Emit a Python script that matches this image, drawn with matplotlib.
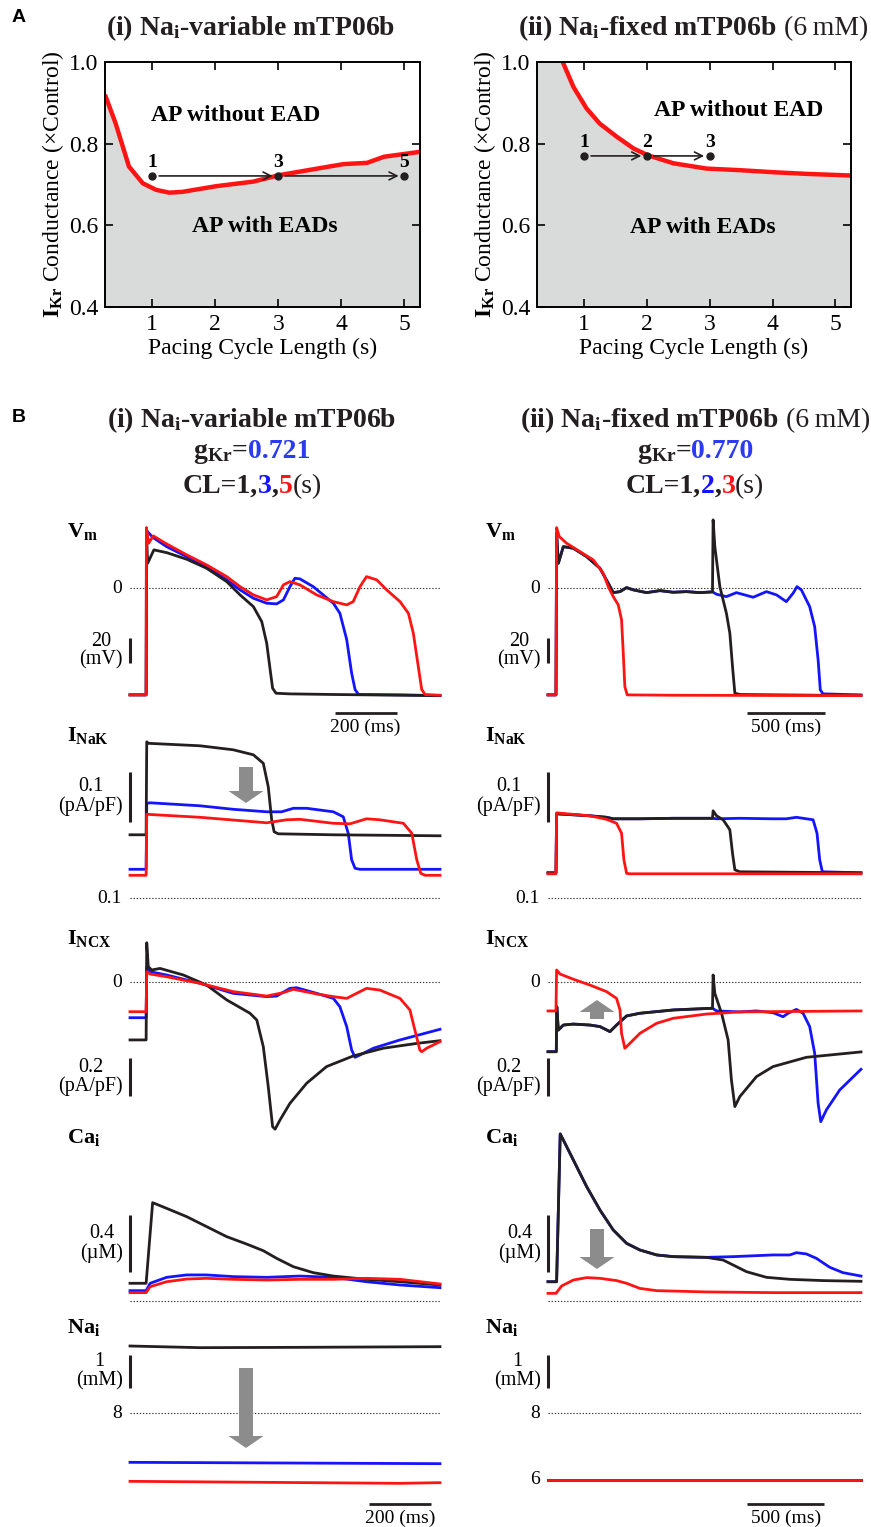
import matplotlib
matplotlib.use("Agg")
import matplotlib.pyplot as plt
import numpy as np
from matplotlib.patches import FancyArrow

plt.rcParams["font.family"] = "Liberation Serif"
plt.rcParams["mathtext.fontset"] = "custom"
plt.rcParams["mathtext.rm"] = "Liberation Serif"
plt.rcParams["mathtext.it"] = "Liberation Serif:italic"
plt.rcParams["mathtext.bf"] = "Liberation Serif:bold"

# ---------------- panel A : EAD boundary (gKr vs pacing CL) ----------------
bound_i_cl = [0.25, 0.42, 0.63, 0.85, 1.06, 1.27, 1.48, 2.02, 2.60, 3.02, 3.62, 4.04, 4.41, 4.68, 5.25]
bound_i_g = [0.920, 0.849, 0.744, 0.703, 0.687, 0.680, 0.682, 0.696, 0.707, 0.723, 0.739, 0.750, 0.753, 0.768, 0.780]
bound_ii_cl = [0.66, 0.83, 1.04, 1.25, 1.52, 1.79, 2.01, 2.42, 2.95, 3.49, 4.02, 4.55, 5.25]
bound_ii_g = [1.0, 0.939, 0.886, 0.849, 0.817, 0.788, 0.772, 0.752, 0.739, 0.735, 0.730, 0.726, 0.722]
runs_i_cl = [1, 3, 5]
runs_i_g = 0.721
runs_ii_cl = [1, 2, 3]
runs_ii_g = 0.770

# ---------------- panel B : traces, (time ms, value) ----------------
# Vm (mV)
vm_i_k = [(0, -85.3), (52, -85.3), (53, 44), (57, 20), (77, 30.7), (118, 28.5), (183, 23.2), (247, 16), (312, 5.3),
          (355, -5.3), (398, -14.7), (425, -26.7), (441, -44), (452, -65), (460, -80), (471, -84), (516, -84.5),
          (656, -85), (1000, -85.9)]
vm_i_b = [(0, -85.3), (52, -85.3), (54, 46), (73, 40.8), (118, 33.3), (183, 25.3), (247, 17.3), (312, 6.7),
          (355, -1.3), (398, -8), (441, -12), (473, -12.5), (495, -9.3), (516, 1.3), (532, 8), (548, 7.5),
          (591, 1.3), (656, -12), (677, -20), (699, -41), (715, -68), (726, -81), (737, -85), (871, -85.3),
          (1000, -85.9)]
vm_i_r = [(0, -85.3), (52, -85.3), (53, 48.5), (60, 36), (75, 41.9), (118, 35.5), (183, 26.7), (247, 18.7),
          (312, 9.3), (355, 1.3), (398, -5.3), (441, -9.3), (473, -6.7), (495, 2.7), (516, 5.3), (548, 2.7),
          (602, -5.3), (656, -10.7), (699, -13.3), (720, -10.7), (742, 1.3), (763, 9.3), (796, 6.7), (828, -1.3),
          (871, -10.7), (898, -20), (914, -36), (930, -62.7), (941, -81), (952, -85), (1000, -85.6)]
vm_ii_k = [(0, -85.3), (51, -85.3), (55, 44), (66, 20), (98, 33.3), (162, 32), (247, 25.3), (332, 16), (385, 4),
           (417, -3.5), (460, -2.7), (502, 0.5), (545, -1.3), (630, -3.5), (715, -1.9), (800, -3.2), (885, -2.7),
           (970, -3.5), (1051, -2.9), (1055, 54.7), (1066, 33.3), (1098, 1.3), (1140, -20), (1162, -36),
           (1179, -62.7), (1194, -84), (1226, -85), (2000, -85.9)]
vm_ii_b = vm_ii_k[:19] + [(1077, -4.8), (1140, -6.7), (1204, -3.5), (1311, -7.2), (1396, -2.7), (1460, -5.3),
                          (1523, -10.7), (1566, -4), (1591, 1.3), (1619, -1.3), (1672, -14.7), (1704, -30.7),
                          (1726, -57.3), (1740, -81.3), (1757, -84.5), (2000, -85.3)]
vm_ii_r = [(0, -85.3), (51, -85.3), (55, 48.5), (72, 41.3), (119, 36), (204, 29.3), (289, 22.7), (353, 12),
           (385, 1.3), (417, -6.7), (449, -13.3), (470, -25.3), (481, -52), (491, -78.7), (506, -85.3),
           (800, -85.6), (2000, -85.9)]

# INaK (pA/pF)
nak_i_k = [(0, 0.227), (52, 0.227), (54, 0.413), (59, 0.41), (226, 0.405), (333, 0.397), (398, 0.387), (430, 0.37),
           (446, 0.323), (457, 0.257), (465, 0.233), (478, 0.229), (656, 0.227), (1000, 0.225)]
nak_i_b = [(0, 0.158), (52, 0.158), (54, 0.29), (65, 0.291), (226, 0.285), (333, 0.278), (441, 0.273), (489, 0.273),
           (527, 0.28), (570, 0.28), (656, 0.273), (688, 0.263), (704, 0.23), (715, 0.177), (726, 0.16),
           (742, 0.158), (1000, 0.158)]
nak_i_r = [(0, 0.146), (52, 0.146), (54, 0.268), (226, 0.262), (441, 0.251), (505, 0.257), (548, 0.258),
           (656, 0.25), (710, 0.249), (763, 0.259), (806, 0.257), (882, 0.25), (909, 0.23), (925, 0.177),
           (938, 0.15), (952, 0.146), (1000, 0.146)]
nak_ii_k = [(0, 0.151), (51, 0.151), (55, 0.269), (268, 0.265), (374, 0.262), (417, 0.259), (587, 0.259),
            (800, 0.26), (1051, 0.26), (1055, 0.275), (1077, 0.265), (1119, 0.257), (1162, 0.237), (1179, 0.19),
            (1194, 0.157), (1226, 0.153), (2000, 0.151)]
nak_ii_b = nak_ii_k[:9] + [(1077, 0.259), (1226, 0.26), (1438, 0.259), (1523, 0.259), (1587, 0.262),
                           (1630, 0.26), (1694, 0.257), (1719, 0.23), (1736, 0.177), (1753, 0.153), (2000, 0.151)]
nak_ii_r = [(0, 0.149), (51, 0.149), (55, 0.271), (119, 0.269), (268, 0.265), (374, 0.258), (438, 0.25),
            (470, 0.23), (485, 0.177), (502, 0.15), (523, 0.149), (2000, 0.149)]

# INCX (pA/pF)
ncx_i_k = [(0, -0.298), (52, -0.298), (54, 0.205), (59, 0.081), (70, 0.064), (97, 0.072), (172, 0.038),
           (247, -0.014), (312, -0.091), (387, -0.16), (409, -0.195), (430, -0.333), (446, -0.54), (460, -0.747),
           (468, -0.76), (484, -0.712), (516, -0.626), (570, -0.522), (634, -0.436), (720, -0.381), (817, -0.341),
           (925, -0.316), (1000, -0.302)]
ncx_i_b = [(0, -0.183), (52, -0.183), (54, 0.081), (65, 0.055), (118, 0.038), (226, -0.005), (333, -0.057),
           (441, -0.074), (473, -0.071), (516, -0.031), (538, -0.028), (602, -0.057), (656, -0.083), (677, -0.126),
           (699, -0.229), (715, -0.35), (726, -0.388), (742, -0.376), (785, -0.341), (871, -0.298), (1000, -0.243)]
ncx_i_r = [(0, -0.152), (52, -0.152), (54, 0.055), (65, 0.043), (118, 0.029), (226, -0.005), (333, -0.048),
           (441, -0.071), (495, -0.053), (527, -0.036), (602, -0.06), (656, -0.074), (699, -0.083), (731, -0.057),
           (763, -0.031), (806, -0.04), (871, -0.083), (903, -0.143), (919, -0.247), (935, -0.35), (941, -0.359),
           (957, -0.341), (1000, -0.307)]
ncx_ii_k = [(0, -0.359), (53, -0.359), (56, -0.126), (66, -0.247), (98, -0.221), (162, -0.216), (268, -0.221),
            (332, -0.229), (396, -0.255), (438, -0.221), (502, -0.174), (587, -0.16), (800, -0.143), (1051, -0.134),
            (1055, 0.038), (1066, -0.057), (1109, -0.16), (1151, -0.298), (1172, -0.505), (1194, -0.643),
            (1226, -0.591), (1332, -0.488), (1438, -0.436), (1651, -0.388), (2000, -0.36)]
ncx_ii_b = ncx_ii_k[:14] + [(1077, -0.148), (1226, -0.153), (1332, -0.148), (1438, -0.157), (1502, -0.178),
                            (1534, -0.16), (1587, -0.14), (1630, -0.16), (1672, -0.229), (1704, -0.367),
                            (1726, -0.626), (1743, -0.721), (1779, -0.66), (1864, -0.557), (2000, -0.45)]
ncx_ii_r = [(0, -0.148), (51, -0.148), (55, 0.064), (77, 0.043), (162, 0.016), (268, -0.014), (374, -0.048),
            (438, -0.083), (460, -0.143), (470, -0.264), (491, -0.341), (513, -0.324), (587, -0.264), (694, -0.212),
            (800, -0.186), (1013, -0.164), (1226, -0.153), (2000, -0.148)]

# Cai (uM)
ca_i_k = [(0, 0.125), (52, 0.125), (73, 0.694), (118, 0.654), (183, 0.595), (247, 0.525), (312, 0.454),
          (376, 0.402), (430, 0.355), (473, 0.301), (527, 0.242), (591, 0.2), (656, 0.176), (763, 0.153),
          (871, 0.136), (1000, 0.113)]
ca_i_b = [(0, 0.073), (52, 0.073), (65, 0.125), (118, 0.167), (183, 0.184), (247, 0.184), (333, 0.172),
          (441, 0.167), (548, 0.176), (656, 0.167), (763, 0.136), (871, 0.113), (1000, 0.094)]
ca_i_r = [(0, 0.059), (52, 0.059), (65, 0.101), (118, 0.136), (183, 0.155), (247, 0.16), (333, 0.153),
          (441, 0.148), (548, 0.153), (656, 0.153), (763, 0.16), (871, 0.153), (1000, 0.12)]
ca_ii_k = [(0, 0.136), (55, 0.136), (78, 1.179), (98, 1.136), (162, 0.995), (247, 0.807), (332, 0.642),
           (417, 0.501), (502, 0.407), (587, 0.36), (694, 0.325), (800, 0.313), (1013, 0.308), (1119, 0.289),
           (1183, 0.254), (1268, 0.207), (1396, 0.167), (1545, 0.153), (1757, 0.144), (2000, 0.139)]
ca_ii_b = ca_ii_k[:13] + [(1183, 0.313), (1332, 0.32), (1438, 0.325), (1545, 0.325), (1587, 0.341),
                          (1651, 0.332), (1715, 0.301), (1800, 0.238), (1885, 0.2), (2000, 0.176)]
ca_ii_r = [(0, 0.054), (51, 0.054), (87, 0.106), (162, 0.148), (247, 0.165), (332, 0.16), (438, 0.144),
           (502, 0.125), (587, 0.089), (694, 0.073), (1013, 0.064), (1438, 0.059), (2000, 0.059)]

# Nai (mM)
na_i_k = [(0, 10.02), (226, 9.97), (548, 9.98), (1000, 10.0)]
na_i_b = [(0, 6.53), (1000, 6.49)]
na_i_r = [(0, 5.96), (870, 5.9), (1000, 5.92)]
na_ii_k = [(0, 6.0), (2000, 6.0)]
na_ii_b = [(0, 6.0), (2000, 6.0)]
na_ii_r = [(0, 6.0), (2000, 6.0)]

K, B, R = "#231f20", "#1414ff", "#ff1414"
GRAY = "#8c8c8c"
W, H = 871, 1527

fig = plt.figure(figsize=(W / 100, H / 100), dpi=100)


def px_axes(x0, y0, x1, y1):
    return fig.add_axes([x0 / W, 1 - y1 / H, (x1 - x0) / W, (y1 - y0) / H])


def pair(p):
    a = np.array(p, dtype=float)
    return a[:, 0], a[:, 1]


renderer = fig.canvas.get_renderer()


def rainbow(xc, y, parts, size):
    # parts: (text, color, weight); centred at xc, baseline y (pixels)
    texts, widths = [], []
    for s, c, w in parts:
        t = fig.text(0, 1 - y / H, s, color=c, fontweight=w, fontsize=size, va="baseline", ha="left")
        texts.append(t)
        widths.append(t.get_window_extent(renderer).width)
    x = xc - sum(widths) / 2
    for t, wd in zip(texts, widths):
        t.set_x(x / W)
        x += wd


# ---------------- panel A ----------------
fig.text(12 / W, 1 - 18 / H, "A", family="Liberation Sans", fontweight="bold", fontsize=14, va="center")
panelA = [
    (105, 420, bound_i_cl, bound_i_g, runs_i_cl, runs_i_g, (2.32, 0.870), (2.79, 0.597)),
    (537, 851, bound_ii_cl, bound_ii_g, runs_ii_cl, runs_ii_g, (3.46, 0.882), (2.89, 0.595)),
]
for x0, x1, cl, g, rcl, rg, pos_no, pos_yes in panelA:
    ax = px_axes(x0, 62, x1, 307)
    ax.set_facecolor("#d9dbda")
    ax.fill_between(cl, g, 1.0, color="white", lw=0)
    ax.plot(cl, g, color=R, lw=3.2, solid_capstyle="butt")
    ax.plot(rcl, [rg] * len(rcl), "o", color=K, ms=5, zorder=5)
    for a, b in zip(rcl[:-1], rcl[1:]):
        ax.annotate("", xy=(b, rg), xytext=(a, rg),
                    arrowprops=dict(arrowstyle="->", color=K, lw=1.2, shrinkA=5, shrinkB=4, mutation_scale=14))
    for c in rcl:
        ax.text(c, rg + 0.012, str(c), ha="center", va="bottom", fontweight="bold", fontsize=14)
    ax.text(*pos_no, "AP without EAD", ha="center", va="center", fontweight="bold", fontsize=17)
    ax.text(*pos_yes, "AP with EADs", ha="center", va="center", fontweight="bold", fontsize=17)
    ax.set_xlim(0.25, 5.25)
    ax.set_ylim(0.4, 1.0)
    ax.set_xticks([1, 2, 3, 4, 5])
    ax.set_yticks([0.4, 0.6, 0.8, 1.0])
    ax.set_yticklabels(["0.4", "0.6", "0.8", "1.0"])
    ax.tick_params(direction="in", top=True, right=True, length=6, width=1.2, labelsize=17, pad=5)
    for sp in ax.spines.values():
        sp.set_linewidth(1.4)
    ax.set_xlabel("Pacing Cycle Length (s)", fontsize=17, labelpad=2)
    ax.set_ylabel(r"$\mathbf{I_{Kr}}$ Conductance ($\times$Control)", fontsize=17, labelpad=2)

rainbow(251, 35, [(r"(i) Na$_\mathbf{i}$-variable mTP06b", K, "bold")], 20)
rainbow(693, 35, [(r"(ii) Na$_\mathbf{i}$-fixed mTP06b", K, "bold"), (" (6\u2009mM)", K, "normal")], 20)

# ---------------- panel B ----------------
fig.text(12 / W, 1 - 418 / H, "B", family="Liberation Sans", fontweight="bold", fontsize=14, va="center")
rainbow(252, 427, [(r"(i) Na$_\mathbf{i}$-variable mTP06b", K, "bold")], 20)
rainbow(252, 458, [(r"g$_\mathbf{Kr}$=", K, "bold"), ("0.721", "#2b3bf0", "bold")], 20)
rainbow(252, 493, [("CL=1,", K, "bold"), ("3", B, "bold"), (",", K, "bold"), ("5", R, "bold"), ("(s)", K, "normal")], 20)
rainbow(695, 427, [(r"(ii) Na$_\mathbf{i}$-fixed mTP06b", K, "bold"), (" (6\u2009mM)", K, "normal")], 20)
rainbow(695, 458, [(r"g$_\mathbf{Kr}$=", K, "bold"), ("0.770", "#2b3bf0", "bold")], 20)
rainbow(695, 493, [("CL=1,", K, "bold"), ("2", B, "bold"), (",", K, "bold"), ("3", R, "bold"), ("(s)", K, "normal")], 20)

cols = [(130, 440, 1000, 67), (548, 861, 2000, 485)]
rows = ["vm", "nak", "ncx", "ca", "na"]
row_box = {"vm": (500, 705, -93.4, 70.6), "nak": (735, 905, 0.0866, 0.4266), "ncx": (935, 1135, -0.790, 0.245),
           "ca": (1125, 1310, -0.0635, 1.242), "na": (1330, 1495, 5.55, 10.5)}
row_name = {"vm": r"V$_\mathbf{m}$", "nak": r"I$_\mathbf{NaK}$", "ncx": r"I$_\mathbf{NCX}$",
            "ca": r"Ca$_\mathbf{i}$", "na": r"Na$_\mathbf{i}$"}
row_name_y = {"vm": 532, "nak": 735, "ncx": 938, "ca": 1137, "na": 1327}
row_bar = {"vm": (-60, -40, "20\n(mV)"), "nak": (0.253, 0.353, "0.1\n(pA/pF)"), "ncx": (-0.59, -0.39, "0.2\n(pA/pF)"),
           "ca": (0.207, 0.607, "0.4\n(µM)"), "na": (8.76, 9.76, "1\n(mM)")}
row_ref = {"vm": (0, "0"), "nak": (0.1, "0.1"), "ncx": (0, "0"), "ca": (0, ""), "na": (8, "8")}
traces = {
    ("vm", 0): [vm_i_b, vm_i_k, vm_i_r], ("vm", 1): [vm_ii_b, vm_ii_k, vm_ii_r],
    ("nak", 0): [nak_i_b, nak_i_k, nak_i_r], ("nak", 1): [nak_ii_b, nak_ii_k, nak_ii_r],
    ("ncx", 0): [ncx_i_b, ncx_i_k, ncx_i_r], ("ncx", 1): [ncx_ii_b, ncx_ii_k, ncx_ii_r],
    ("ca", 0): [ca_i_b, ca_i_k, ca_i_r], ("ca", 1): [ca_ii_b, ca_ii_k, ca_ii_r],
    ("na", 0): [na_i_b, na_i_k, na_i_r], ("na", 1): [na_ii_b, na_ii_k, na_ii_r],
}
time_bars = [((660, 860), (1270, 1770), "vm", -100), ((770, 970), (1270, 1766), "na", 5.28)]
bar_len = ["200 (ms)", "500 (ms)"]

axes = {}
for ci, (x0, x1, tmax, lab_x) in enumerate(cols):
    for r in rows:
        y0, y1, lo, hi = row_box[r]
        ax = px_axes(x0, y0, x1, y1)
        ax.set_facecolor("none")
        ax.set_xlim(0, tmax)
        ax.set_ylim(lo, hi)
        ax.axis("off")
        axes[(r, ci)] = ax
        ref, ref_lab = row_ref[r]
        ax.axhline(ref, color="#333333", lw=0.8, ls=(0, (1.2, 1.6)))
        if ref_lab:
            ax.annotate(ref_lab, xy=(0, ref), xycoords=("axes fraction", "data"), xytext=(-6, 0),
                        textcoords="offset points", ha="right", va="center", fontsize=14)
        b0, b1, blab = row_bar[r]
        ax.plot([0, 0], [b0, b1], color=K, lw=2.2, clip_on=False, solid_capstyle="butt")
        ax.annotate(blab, xy=(0, (b0 + b1) / 2), xycoords="data", xytext=(-5, 0), textcoords="offset points",
                    ha="right", va="center", ma="center", fontsize=14.5, linespacing=1.0)
        for tr, c in zip(traces[(r, ci)], [B, K, R]):
            t, v = pair(tr)
            ax.plot(t, v, color=c, lw=2.0, clip_on=False, solid_joinstyle="round")
        fig.text(lab_x / W, 1 - row_name_y[r] / H, row_name[r], fontweight="bold", fontsize=16, va="center")
    if ci == 1:
        axes[("na", 1)].annotate("6", xy=(0, 6), xycoords=("axes fraction", "data"), xytext=(-6, 0),
                                 textcoords="offset points", ha="right", va="center", fontsize=14)
    for spans, r, yb in [(tb[ci], tb[2], tb[3]) for tb in time_bars]:
        ax = axes[(r, ci)]
        ax.plot(spans, [yb, yb], color=K, lw=2.0, clip_on=False, solid_capstyle="butt")
        ax.annotate(bar_len[ci], xy=(sum(spans) / 2, yb), xytext=(0, -4), textcoords="offset points",
                    ha="center", va="top", fontsize=14, annotation_clip=False)

# gray block arrows (figure pixel overlay)
ov = fig.add_axes([0, 0, 1, 1])
ov.set_xlim(0, W)
ov.set_ylim(H, 0)
ov.axis("off")
ov.set_facecolor("none")
for x, ya, yb in [(246, 767, 803), (246, 1368, 1448), (597, 1019, 1000), (597, 1229, 1269)]:
    ov.add_patch(FancyArrow(x, ya, 0, yb - ya, width=14, head_width=35, head_length=12,
                            length_includes_head=True, color=GRAY, lw=0))

fig.savefig("out.png", dpi=100)
